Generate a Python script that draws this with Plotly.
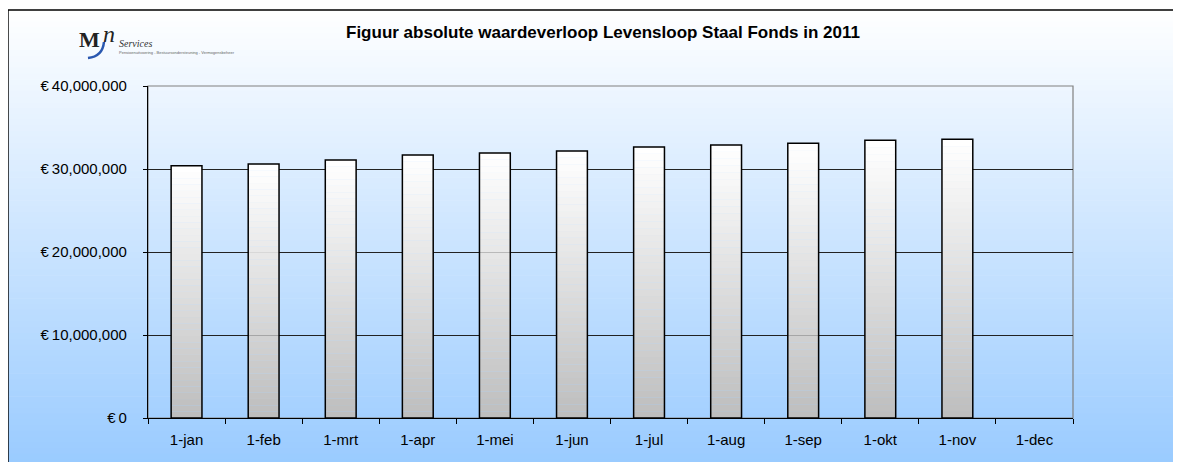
import plotly.graph_objects as go

months = ["1-jan", "1-feb", "1-mrt", "1-apr", "1-mei", "1-jun",
          "1-jul", "1-aug", "1-sep", "1-okt", "1-nov", "1-dec"]
values = [30400000, 30600000, 31080000, 31690000, 31930000, 32170000,
          32650000, 32890000, 33100000, 33460000, 33580000, None]
y_ticks = [0, 10000000, 20000000, 30000000, 40000000]
y_labels = [f"€\u2009{v:,}" for v in y_ticks]

title = "Figuur absolute waardeverloop Levensloop Staal Fonds in 2011"
FONT = "Liberation Sans, Arial, sans-serif"
SERIF = "Liberation Serif, Times New Roman, serif"


def mix(c1, c2, t):
    return "rgb({},{},{})".format(*[round(a + (b - a) * t) for a, b in zip(c1, c2)])


fig = go.Figure()

# bars with a vertical grey->white gradient, built from stacked slices
n_slices = 40
for k in range(n_slices):
    fig.add_trace(go.Bar(
        x=months,
        y=[None if v is None else v / n_slices for v in values],
        base=[None if v is None else v * k / n_slices for v in values],
        marker=dict(color=mix((190, 190, 190), (255, 255, 255), k / (n_slices - 1)),
                    line=dict(width=0)),
        hoverinfo="skip", showlegend=False,
    ))

# outline of each bar
fig.add_trace(go.Bar(
    x=months, y=values,
    marker=dict(color="rgba(0,0,0,0)", line=dict(color="#000000", width=1.5)),
    showlegend=False,
))

# figure background: white -> light blue gradient, as thin stripes
shapes = []
y_top, y_bot = 1.229, -0.16
n_bg = 80
for i in range(n_bg):
    t0 = i / n_bg
    t1 = (i + 1) / n_bg
    shapes.append(dict(
        type="rect", xref="paper", yref="paper", layer="below",
        x0=-0.1514, x1=1.2,
        y0=y_top - (y_top - y_bot) * t0, y1=y_top - (y_top - y_bot) * t1 - 0.002,
        fillcolor=mix((255, 255, 255), (152, 202, 255), (t0 + t1) / 2),
        line=dict(width=0),
    ))
# outer frame
shapes.append(dict(type="rect", xref="paper", yref="paper", layer="above",
                   x0=-0.1514, x1=1.3, y0=-0.3, y1=1.229,
                   line=dict(color="#000000", width=1.5)))
# plot area border (grey)
shapes.append(dict(type="rect", xref="paper", yref="paper", layer="below",
                   x0=0, x1=1, y0=0, y1=1,
                   line=dict(color="#808080", width=1.2)))
# logo swoosh
shapes.append(dict(type="path", xref="paper", yref="paper", layer="above",
                   path="M -0.0649,1.0843 Q -0.049,1.089 -0.0476,1.1325",
                   line=dict(color="#2a58b0", width=2.5)))

annotations = [
    dict(text="<b>" + title + "</b>", xref="paper", yref="paper",
         x=0.492, y=1.16, showarrow=False, xanchor="center", yanchor="middle",
         font=dict(family=FONT, size=17, color="#000000")),
    # logo
    dict(text="<b>M</b>", xref="paper", yref="paper", x=-0.0497, y=1.14,
         showarrow=False, xanchor="right", yanchor="middle",
         font=dict(family=SERIF, size=22, color="#222222")),
    dict(text="<i>n</i>", xref="paper", yref="paper", x=-0.0505, y=1.158,
         showarrow=False, xanchor="left", yanchor="middle",
         font=dict(family=SERIF, size=24, color="#222222")),
    dict(text="<i>Services</i>", xref="paper", yref="paper", x=-0.0335, y=1.128,
         showarrow=False, xanchor="left", yanchor="middle",
         font=dict(family=SERIF, size=10, color="#333333")),
    dict(text="Pensioenuitvoering - Bestuursondersteuning - Vermogensbeheer",
         xref="paper", yref="paper", x=-0.0335, y=1.102,
         showarrow=False, xanchor="left", yanchor="middle",
         font=dict(family=FONT, size=4, color="#666666")),
]

fig.update_layout(
    width=1181, height=462,
    margin=dict(l=140, r=116, t=78, b=52),
    paper_bgcolor="#ffffff",
    plot_bgcolor="rgba(0,0,0,0)",
    barmode="overlay",
    bargap=0.6,
    showlegend=False,
    shapes=shapes,
    annotations=annotations,
    font=dict(family=FONT, size=15, color="#000000"),
)
fig.update_xaxes(
    type="category", categoryorder="array", categoryarray=months,
    showline=True, linecolor="#000000", linewidth=1.2,
    ticks="outside", tickson="boundaries", ticklen=5, tickcolor="#000000",
    ticklabelstandoff=8,
    showgrid=False, tickfont=dict(size=15, color="#000000"),
)
fig.update_yaxes(
    range=[0, 40000000], tickmode="array", tickvals=y_ticks, ticktext=y_labels,
    showline=True, linecolor="#000000", linewidth=1.2,
    ticks="outside", ticklen=4, tickcolor="#000000", ticklabelstandoff=13,
    showgrid=True, gridcolor="#222222", gridwidth=1, zeroline=False,
    tickfont=dict(size=15, color="#000000"),
)

fig.write_html("out.html")
